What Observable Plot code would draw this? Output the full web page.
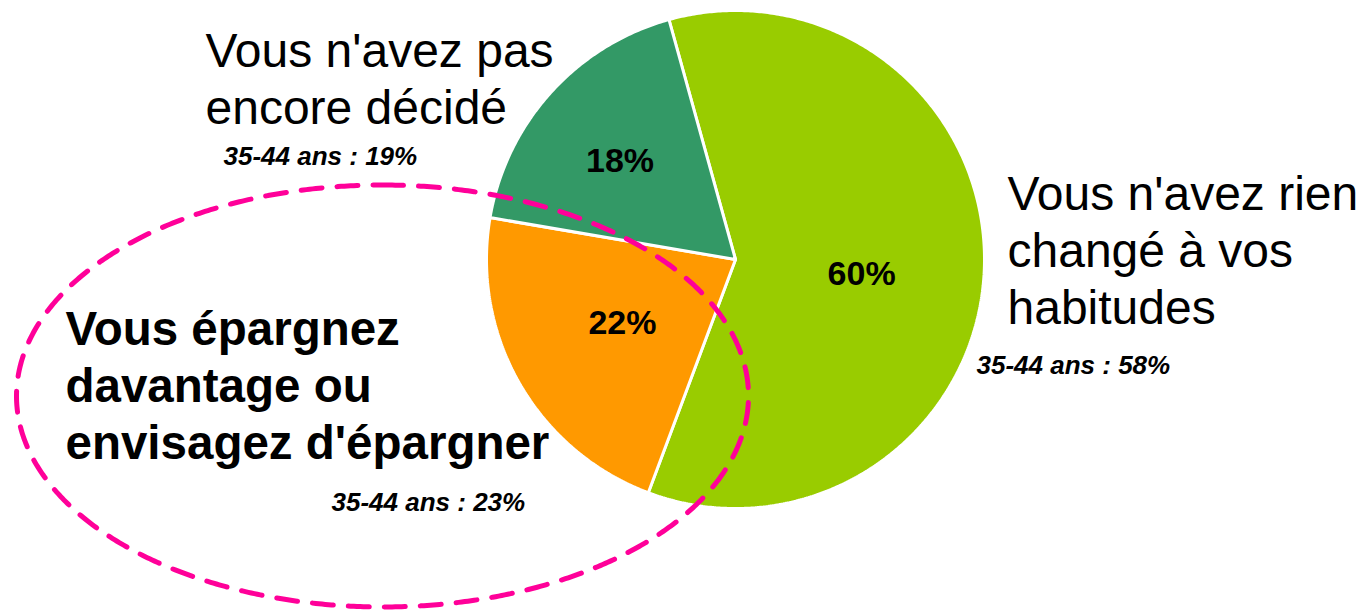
<!DOCTYPE html>
<html>
<head>
<meta charset="utf-8">
<script src="https://cdn.jsdelivr.net/npm/d3@7"></script>
<script src="https://cdn.jsdelivr.net/npm/@observablehq/plot@0.6"></script>
<style>
  html, body { margin: 0; padding: 0; background: #ffffff; }
  #chart svg { display: block; }
</style>
</head>
<body>
<div id="chart"></div>
<script>
// ---- data ----
const categories = [
  "Vous n'avez rien changé à vos habitudes",
  "Vous épargnez davantage ou envisagez d'épargner",
  "Vous n'avez pas encore décidé"
];
const values = [60, 22, 18];
const categoryLabels = [
  "Vous n'avez rien\nchangé à vos\nhabitudes",
  "Vous épargnez\ndavantage ou\nenvisagez d'épargner",
  "Vous n'avez pas\nencore décidé"
];
const ageLabels = ["35-44 ans : 58%", "35-44 ans : 23%", "35-44 ans : 19%"];
const colors = ["#99CC00", "#FF9900", "#339966"];

// ---- layout ----
const W = 1364, H = 610;
const cx = 735, cy = 259, R = 249;
const startDeg = -15.5;                  // angle of first slice (clockwise from top)
const labelRadius = [0.51, 0.52, 0.61];
const labelTurn = [4.3, 0.7, -1.6];
const ell = {cx: 382, cy: 395.5, rx: 366, ry: 211};
const catPos = [
  {x: 1007, y: 323, w: "normal"},
  {x: 65, y: 458, w: "bold"},
  {x: 205, y: 123.3, w: "normal"}
];
const agePos = [{x: 976, y: 373}, {x: 331, y: 510}, {x: 223, y: 164}];
const FONT = "Liberation Sans, Arial, Helvetica, sans-serif";

// ---- geometry from values ----
const total = d3.sum(values);
const rad = (d) => d * Math.PI / 180;
const px = (a, r) => cx + r * Math.sin(rad(a));
const py = (a, r) => cy - r * Math.cos(rad(a));

let acc = startDeg;
const slices = values.map((v, i) => {
  const a0 = acc, a1 = acc + v / total * 360;
  acc = a1;
  return {cat: categories[i], value: v, a0, a1, i};
});

const slicePts = [];
for (const s of slices) {
  slicePts.push({cat: s.cat, x: cx, y: cy});
  const n = Math.ceil((s.a1 - s.a0) / 0.5);
  for (let k = 0; k <= n; k++) {
    const a = s.a0 + (s.a1 - s.a0) * k / n;
    slicePts.push({cat: s.cat, x: px(a, R), y: py(a, R)});
  }
  slicePts.push({cat: s.cat, x: cx, y: cy});
}

const pctLabels = slices.map((s) => {
  const a = (s.a0 + s.a1) / 2 + labelTurn[s.i];
  return {text: s.value + "%", x: px(a, R * labelRadius[s.i]), y: py(a, R * labelRadius[s.i])};
});

const ellPts = [];
for (let k = 0; k <= 720; k++) {
  const t = -Math.PI / 2 + 2 * Math.PI * k / 720;
  ellPts.push({x: ell.cx + ell.rx * Math.cos(t), y: ell.cy + ell.ry * Math.sin(t)});
}

const catData = categoryLabels.map((t, i) => ({text: t, ...catPos[i]}));
const ageData = ageLabels.map((t, i) => ({text: t, ...agePos[i]}));

const chart = Plot.plot({
  width: W,
  height: H,
  margin: 0,
  x: {domain: [0, W], range: [0, W], axis: null},
  y: {domain: [0, H], range: [0, H], axis: null},
  color: {domain: categories, range: colors},
  style: {background: "#ffffff", overflow: "visible"},
  marks: [
    Plot.line(slicePts, {x: "x", y: "y", z: "cat", fill: "cat", stroke: "#ffffff", strokeWidth: 3, strokeLinejoin: "miter", curve: "linear"}),
    Plot.line(ellPts, {x: "x", y: "y", stroke: "#FF0099", strokeWidth: 5, strokeDasharray: "21,15", fill: "none"}),
    Plot.text(pctLabels, {x: "x", y: "y", text: "text", fontSize: 34, fontWeight: "bold", fontFamily: FONT, fill: "#000", textAnchor: "middle", lineAnchor: "middle"}),
    Plot.text(catData.filter(d => d.w === "normal"), {x: "x", y: "y", text: "text", fontSize: 48, fontFamily: FONT, fill: "#000", textAnchor: "start", lineAnchor: "bottom", lineHeight: 1.18}),
    Plot.text(catData.filter(d => d.w === "bold"), {x: "x", y: "y", text: "text", fontSize: 47.5, fontWeight: "bold", fontFamily: FONT, fill: "#000", textAnchor: "start", lineAnchor: "bottom", lineHeight: 1.19}),
    Plot.text(ageData, {x: "x", y: "y", text: "text", fontSize: 26, fontWeight: "bold", fontStyle: "italic", fontFamily: FONT, fill: "#000", textAnchor: "start", lineAnchor: "bottom"})
  ]
});
document.getElementById("chart").appendChild(chart);
</script>
</body>
</html>
